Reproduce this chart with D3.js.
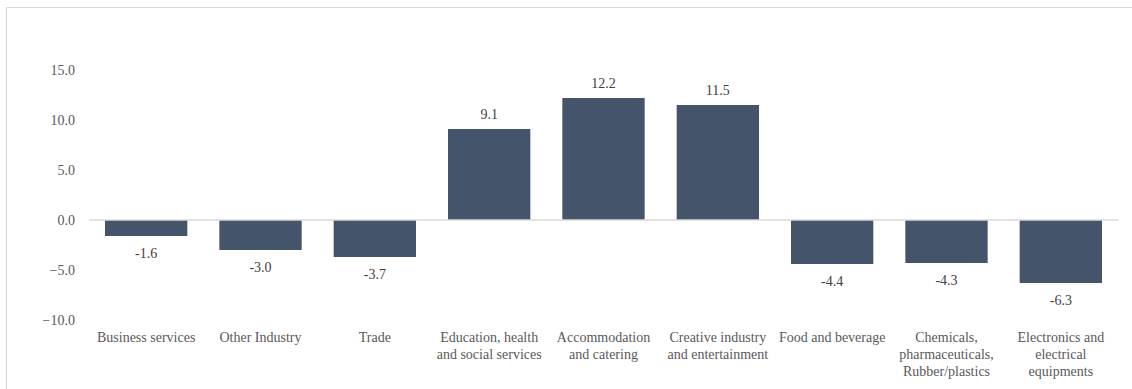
<!DOCTYPE html>
<html>
<head>
<meta charset="utf-8">
<script src="https://cdn.jsdelivr.net/npm/d3@7"></script>
<style>
  html, body { margin: 0; padding: 0; background: #fff; }
  svg text { font-family: "Liberation Serif", "Times New Roman", Times, serif; font-size: 14px; }
</style>
</head>
<body>
<svg id="chart" width="1132" height="389"></svg>
<script>
"use strict";

// sectors (label lines) and their change values
const categories = [
  ["Business services"],
  ["Other Industry"],
  ["Trade"],
  ["Education, health", "and social services"],
  ["Accommodation", "and catering"],
  ["Creative industry", "and entertainment"],
  ["Food and beverage"],
  ["Chemicals,", "pharmaceuticals,", "Rubber/plastics"],
  ["Electronics and", "electrical", "equipments"],
];
const values = [-1.6, -3.0, -3.7, 9.1, 12.2, 11.5, -4.4, -4.3, -6.3];
const yTicks = [-10, -5, 0, 5, 10, 15];

const W = 1132, H = 389;
const svg = d3.select("#chart");
const TEXT = "#595959";

// chart-area frame (only top and left edges fall inside the picture)
svg.append("rect")
  .attr("x", 6.5).attr("y", 7.5)
  .attr("width", W + 10).attr("height", H + 10)
  .attr("fill", "none").attr("stroke", "#d9d9d9");

const x = d3.scaleBand()
  .domain(d3.range(values.length))
  .range([89, 1118])
  .paddingInner(0.28)
  .paddingOuter(0.14);

const y = d3.scaleLinear().domain([-10, 15]).range([320, 70]);

// y axis: labels only
const yAxis = svg.append("g")
  .attr("transform", "translate(80,0)")
  .call(d3.axisLeft(y).tickValues(yTicks).tickFormat(d3.format(".1f")).tickSize(0).tickPadding(5));
yAxis.attr("font-family", null).attr("font-size", null);
yAxis.select(".domain").remove();
yAxis.selectAll("text").attr("fill", TEXT);

// bars
svg.append("g").selectAll("rect")
  .data(values)
  .join("rect")
  .attr("x", (d, i) => x(i))
  .attr("width", x.bandwidth())
  .attr("y", (d) => y(Math.max(0, d)))
  .attr("height", (d) => Math.abs(y(d) - y(0)))
  .attr("fill", "#44546a");

// zero line
svg.append("line")
  .attr("x1", 89).attr("x2", 1118)
  .attr("y1", y(0)).attr("y2", y(0))
  .attr("stroke", "#d9d9d9").attr("stroke-width", 1.5);

// value labels
svg.append("g").selectAll("text")
  .data(values)
  .join("text")
  .attr("x", (d, i) => x(i) + x.bandwidth() / 2)
  .attr("y", (d) => d >= 0 ? y(d) - 10 : y(d) + 22)
  .attr("text-anchor", "middle")
  .attr("fill", "#404040")
  .text((d) => d.toFixed(1));

// category labels
const cat = svg.append("g").selectAll("text")
  .data(categories)
  .join("text")
  .attr("text-anchor", "middle")
  .attr("fill", TEXT)
  .attr("transform", (d, i) => `translate(${x(i) + x.bandwidth() / 2},342)`);
cat.selectAll("tspan")
  .data((d) => d)
  .join("tspan")
  .attr("x", 0)
  .attr("y", (d, j) => j * 17)
  .text((d) => d);
</script>
</body>
</html>
